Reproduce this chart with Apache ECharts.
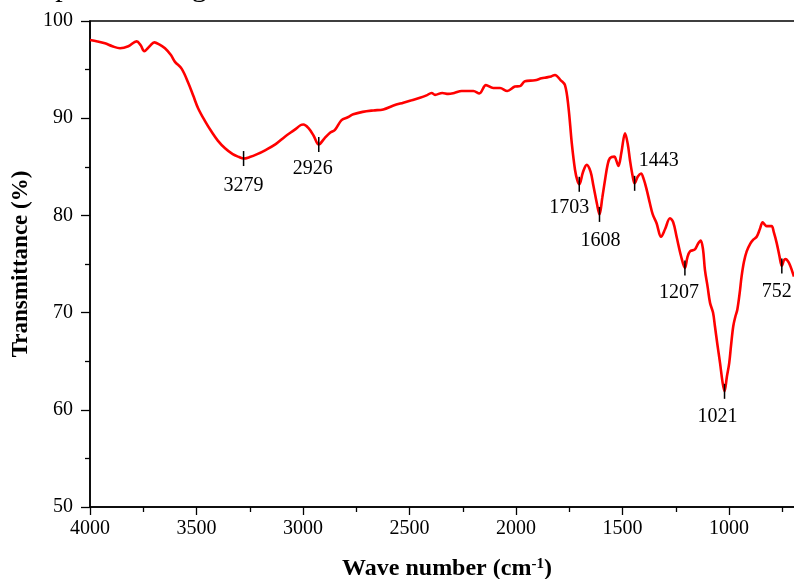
<!DOCTYPE html>
<html>
<head>
<meta charset="utf-8">
<title>FTIR spectrum</title>
<script src="https://cdn.jsdelivr.net/npm/echarts@6/dist/echarts.min.js"></script>
<style>
  html, body { margin: 0; padding: 0; background: #fff; }
  #chart { width: 794px; height: 579px; }
</style>
</head>
<body>
<div id="chart"></div>
<script>
// Wavenumber (cm-1) and transmittance (%) of the measured spectrum
const wavenumbers = [
  4000, 3965, 3930, 3895, 3859, 3820, 3781, 3762, 3745, 3720, 3698, 3675, 3648, 3620, 3601,
  3570, 3538, 3515, 3492, 3460, 3429, 3400, 3366, 3330, 3300, 3279, 3250, 3215, 3178, 3130,
  3085, 3040, 3010, 2998, 2975, 2950, 2926, 2900, 2873, 2850, 2819, 2790, 2764, 2720, 2670,
  2623, 2575, 2529, 2490, 2451, 2420, 2396, 2380, 2346, 2318, 2290, 2255, 2200, 2172, 2141,
  2107, 2075, 2041, 2005, 1981, 1958, 1911, 1880, 1856, 1835, 1817, 1790, 1770, 1754, 1738,
  1723, 1712, 1703, 1685, 1668, 1650, 1637, 1620, 1608, 1595, 1582, 1570, 1559, 1538, 1530,
  1519, 1505, 1488, 1475, 1465, 1452, 1443, 1428, 1413, 1400, 1386, 1372, 1358, 1340, 1319,
  1300, 1277, 1262, 1246, 1225, 1207, 1195, 1183, 1160, 1145, 1133, 1122, 1113, 1100, 1089,
  1075, 1066, 1055, 1042, 1030, 1021, 1010, 999, 990, 980, 970, 961, 950, 941, 930,
  917, 900, 886, 870, 855, 842, 830, 823, 800, 790, 776, 763, 752, 742, 734,
  724, 714, 704, 695
];
const transmittance = [
  98.05, 97.9, 97.7, 97.4, 97.2, 97.4, 97.9, 97.5, 96.9, 97.4, 97.8, 97.6, 97.2, 96.5, 95.8,
  95.1, 93.6, 92.3, 91.0, 89.7, 88.6, 87.7, 86.9, 86.3, 86.0, 85.85, 86.0, 86.3, 86.7, 87.3,
  88.1, 88.8, 89.3, 89.35, 89.0, 88.2, 87.3, 87.9, 88.5, 88.8, 89.8, 90.1, 90.4, 90.65, 90.8,
  90.9, 91.3, 91.6, 91.85, 92.1, 92.35, 92.6, 92.4, 92.6, 92.5, 92.6, 92.8, 92.8, 92.55, 93.4,
  93.1, 93.1, 92.8, 93.25, 93.3, 93.8, 93.9, 94.1, 94.2, 94.3, 94.45, 93.9, 93.4, 91.2, 87.4,
  84.7, 83.6, 83.2, 84.5, 85.2, 84.5, 83.1, 81.2, 80.1, 81.8, 83.65, 85.2, 85.9, 86.05, 85.7,
  85.1, 86.5, 88.45, 87.3, 85.7, 84.0, 83.3, 84.0, 84.3, 83.7, 82.6, 81.3, 80.1, 79.2, 77.8,
  78.6, 79.7, 79.3, 77.8, 75.8, 74.6, 75.7, 76.3, 76.5, 77.1, 77.4, 76.5, 74.4, 72.6, 71.0,
  70.0, 68.6, 66.8, 64.8, 62.8, 61.9, 63.4, 64.8, 66.7, 68.6, 69.6, 70.3, 72.0, 73.7, 75.2,
  76.3, 77.1, 77.5, 77.8, 78.6, 79.3, 79.0, 78.9, 78.9, 78.3, 77.15, 75.8, 74.8, 75.4, 75.5,
  75.3, 74.9, 74.3, 73.7
];

// Assigned absorption bands
const bandWavenumbers = [3279, 2926, 1703, 1608, 1443, 1207, 1021, 752];

// Axis ticks
const xTicks = { min: 500, max: 4000, interval: 500 };
const yTicks = { min: 50, max: 100, interval: 10 };

// Label placement of each band (pixel offset from the band marker)
const bandLabelOffset = {
  3279: [0, 27], 2926: [-6, 24], 1703: [-10, 23], 1608: [1, 26],
  1443: [24, -23], 1207: [-6, 25], 1021: [-7, 25], 752: [-5, 26]
};

const serif = '"Liberation Serif", "Times New Roman", serif';

const spectrum = wavenumbers.map((w, i) => [w, transmittance[i]]);
const bands = bandWavenumbers.map(w => ({
  value: [w, transmittance[wavenumbers.indexOf(w)]],
  label: { offset: bandLabelOffset[w] }
}));

const chart = echarts.init(document.getElementById('chart'), null, { renderer: 'canvas' });

chart.setOption({
  backgroundColor: '#ffffff',
  animation: false,
  grid: {
    left: 90, top: 21, bottom: 72, right: -41.5,
    containLabel: false,
    outerBoundsMode: 'none',
    show: true, borderColor: '#000', borderWidth: 1.5, backgroundColor: 'transparent'
  },
  xAxis: {
    type: 'value',
    inverse: true,
    min: xTicks.min, max: xTicks.max, interval: xTicks.interval,
    axisLine: { show: true, onZero: false, lineStyle: { color: '#000', width: 1.5 } },
    axisTick: { show: true, inside: false, length: 8, lineStyle: { color: '#000', width: 1.3 } },
    minorTick: { show: true, splitNumber: 2, length: 5, lineStyle: { color: '#000', width: 1.3 } },
    splitLine: { show: false },
    axisLabel: { color: '#000', fontFamily: serif, fontSize: 20, margin: 12, formatter: v => String(v) }
  },
  yAxis: {
    type: 'value',
    min: yTicks.min, max: yTicks.max, interval: yTicks.interval,
    name: 'Transmittance (%)',
    nameLocation: 'middle',
    nameGap: 56,
    nameTextStyle: { color: '#000', fontFamily: serif, fontSize: 23, fontWeight: 'bold' },
    axisLine: { show: true, lineStyle: { color: '#000', width: 1.5 } },
    axisTick: { show: true, inside: false, length: 9, lineStyle: { color: '#000', width: 1.3 } },
    minorTick: { show: true, splitNumber: 2, length: 5, lineStyle: { color: '#000', width: 1.3 } },
    splitLine: { show: false },
    axisLabel: { color: '#000', fontFamily: serif, fontSize: 20, margin: 17, formatter: v => String(v) }
  },
  graphic: [
    {
      type: 'text',
      x: 447, y: 569,
      style: {
        text: 'Wave number (cm{sup|-1})',
        x: 0, y: 0,
        align: 'center', verticalAlign: 'middle',
        font: 'bold 24px ' + serif,
        fill: '#000',
        rich: {
          sup: { font: 'bold 15px ' + serif, fill: '#000', verticalAlign: 'top', padding: [0, 0, 10, 0] }
        }
      }
    },
    {
      type: 'text',
      x: 6, y: -11.5,
      style: {
        text: 'e depicted in Figure 3 and 4.',
        align: 'left', verticalAlign: 'middle',
        font: '30px ' + serif,
        fill: '#000'
      }
    }
  ],
  series: [
    {
      type: 'line',
      data: spectrum,
      showSymbol: false,
      smooth: 0.35,
      lineStyle: { color: '#ff0000', width: 2.6 },
      z: 3
    },
    {
      type: 'scatter',
      data: bands,
      symbol: 'rect',
      symbolSize: [1.5, 15],
      itemStyle: { color: '#000', opacity: 1 },
      label: {
        show: true,
        position: 'inside',
        formatter: p => String(p.value[0]),
        color: '#000',
        fontFamily: serif,
        fontSize: 20
      },
      z: 4
    }
  ]
});
</script>
</body>
</html>
